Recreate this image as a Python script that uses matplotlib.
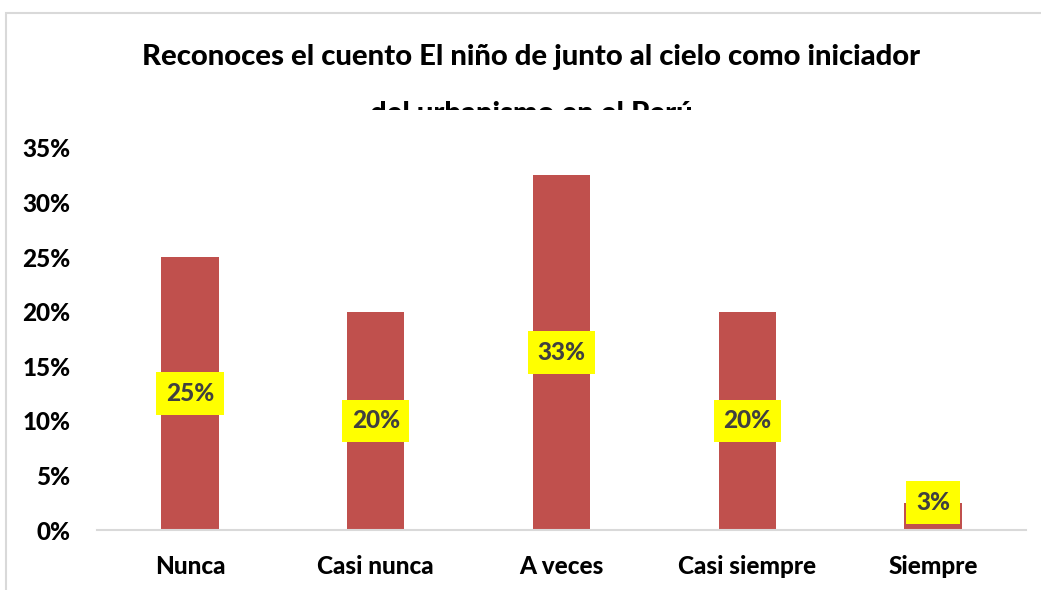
import numpy as np
import matplotlib
matplotlib.use("Agg")
import matplotlib.pyplot as plt
from matplotlib.patches import Rectangle

# data
categories = ["Nunca", "Casi nunca", "A veces", "Casi siempre", "Siempre"]
values = [0.25, 0.20, 0.325, 0.20, 0.025]
labels = ["25%", "20%", "33%", "20%", "3%"]
yticks = [0, 0.05, 0.10, 0.15, 0.20, 0.25, 0.30, 0.35]
ytick_labels = ["0%", "5%", "10%", "15%", "20%", "25%", "30%", "35%"]
title = "Reconoces el cuento El niño de junto al cielo como iniciador\ndel urbanismo en el Perú"

plt.rcParams['font.family'] = ['Lato', 'DejaVu Sans']

W, H = 1041, 590
fig = plt.figure(figsize=(W / 100, H / 100), dpi=100)
fig.patch.set_facecolor("white")

# outer chart border (cropped on the right and bottom)
fig.patches.append(Rectangle((6 / W, -0.1), 1.2, 1 - 13 / H + 0.1, transform=fig.transFigure,
                             fill=False, edgecolor="#d9d9d9", linewidth=1.5, zorder=-2))

# plot area: y=110..530 px, 0..0.35 spans 148..530
px_per_unit = (530 - 148) / 0.35
ytop = (530 - 110) / px_per_unit
ax = fig.add_axes([97 / W, (H - 530) / H, (1026 - 97) / W, (530 - 110) / H])
ax.set_facecolor("white")

# title drawn under the plot area so the second line gets hidden like the original
fig.text(531 / W, 1 - 44 / H, title, ha="center", va="top", fontsize=21.1, fontweight=900,
         color="black", linespacing=2.5, zorder=-1, transform=fig.transFigure)

x = np.arange(len(categories))
ax.bar(x, values, width=0.31, color="#c0504d", zorder=2)

for xi, v, lab in zip(x, values, labels):
    ax.text(xi, max(v / 2, 0.025), lab, ha="center", va="center", fontsize=17.5,
            fontweight=900, color="#404040", zorder=3,
            bbox=dict(boxstyle="square,pad=0.4", facecolor="#ffff00", edgecolor="none"))

ax.set_xlim(-0.5, len(categories) - 0.5)
ax.set_ylim(0, ytop)
ax.set_yticks(yticks)
ax.set_yticklabels(ytick_labels, fontsize=17.5, fontweight=900)
ax.set_xticks(x)
ax.set_xticklabels(categories, fontsize=17.5, fontweight=900)
ax.tick_params(axis="y", length=0, pad=19)
ax.tick_params(axis="x", length=0, pad=18)

for s in ["top", "right", "left"]:
    ax.spines[s].set_visible(False)
ax.spines["bottom"].set_color("#d9d9d9")
ax.spines["bottom"].set_linewidth(1.5)

fig.savefig("out.png", dpi=100)
